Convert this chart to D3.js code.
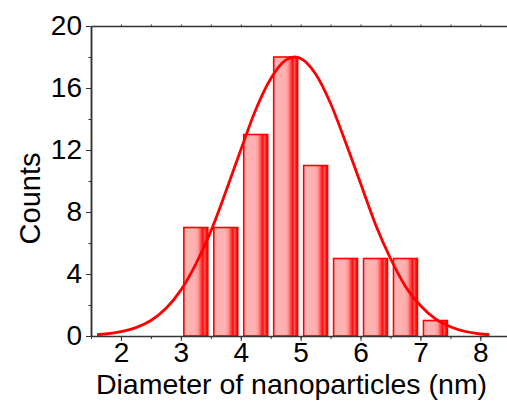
<!DOCTYPE html>
<html>
<head>
<meta charset="utf-8">
<script src="https://cdn.jsdelivr.net/npm/d3@7"></script>
<style>
  body { margin: 0; background: #fff; }
  svg { display: block; font-family: "Liberation Sans", Arial, sans-serif; }
</style>
</head>
<body>
<div id="chart"></div>
<script>
// histogram bins (left edge, nm) and counts
var binStarts = [3.0, 3.5, 4.0, 4.5, 5.0, 5.5, 6.0, 6.5, 7.0];
var counts = [7, 7, 13, 18, 11, 5, 5, 5, 1];
var binWidth = 0.5;

// fitted curve
var fitX = [1.6, 1.75, 2.0, 2.25, 2.5, 2.75, 3.0, 3.25, 3.5, 3.75, 4.0, 4.25, 4.5, 4.75, 4.9,
            5.0, 5.25, 5.5, 5.75, 6.0, 6.25, 6.5, 6.75, 7.0, 7.25, 7.5, 7.75, 8.0, 8.15];
var fitY = [0.08, 0.13, 0.28, 0.54, 1.0, 1.77, 2.96, 4.64, 6.75, 9.3, 12.0, 14.6, 16.6, 17.8, 18.0,
            17.9, 16.9, 15.0, 12.5, 9.85, 7.2, 5.0, 3.2, 1.97, 1.1, 0.6, 0.29, 0.13, 0.08];

var xTicks = [2, 3, 4, 5, 6, 7, 8];
var yTicks = [0, 4, 8, 12, 16, 20];

var W = 507, H = 406;
var red = "#ff0000";
var axisColor = "#333";

var svg = d3.select("#chart").append("svg")
    .attr("width", W)
    .attr("height", H);

var x = d3.scaleLinear().domain([1.5, 8.5]).range([91, 510.3]);
var y = d3.scaleLinear().domain([0, 20]).range([336, 26]);

// bar gradient, pink going to red at right edge
var grad = svg.append("defs").append("linearGradient")
    .attr("id", "barfill")
    .attr("x1", "0").attr("y1", "0").attr("x2", "1").attr("y2", "0");
[[0, "#ffb3b3"], [0.48, "#ffb0b0"], [0.6, "#ff9898"], [0.72, "#ff4040"],
 [0.8, "#ff0a0a"], [0.87, "#ff5858"], [0.93, "#ff1818"], [1, "#ff0000"]]
    .forEach(function (s) {
        grad.append("stop").attr("offset", s[0]).attr("stop-color", s[1]);
    });

// bars
var gap = 2.2, sw = 1.6;
svg.append("g")
    .selectAll("rect")
    .data(binStarts)
    .enter()
    .append("rect")
    .attr("x", function (d) { return x(d) + gap + sw / 2; })
    .attr("width", function (d) { return x(d + binWidth) - x(d) - 2 * gap - sw; })
    .attr("y", function (d, i) { return y(counts[i]); })
    .attr("height", function (d, i) { return y(0) - y(counts[i]); })
    .style("fill", "url(#barfill)")
    .style("stroke", red)
    .style("stroke-width", sw + "px");

// axes
function styleAxis(g) {
    g.select(".domain").attr("stroke", axisColor).attr("stroke-width", 1.5);
    g.selectAll(".tick line").attr("stroke", axisColor).attr("stroke-width", 1);
}

// minor ticks first
svg.append("g")
    .attr("transform", "translate(0," + y(0) + ")")
    .call(d3.axisBottom(x).tickValues(d3.range(1.5, 8.6, 0.5)).tickSize(3).tickFormat("").tickSizeOuter(0))
    .call(styleAxis);

var xAxis = svg.append("g")
    .attr("transform", "translate(0," + y(0) + ")")
    .call(d3.axisBottom(x).tickValues(xTicks).tickSize(5).tickFormat(d3.format("d")).tickSizeOuter(0))
    .call(styleAxis);
xAxis.select(".domain").remove();
xAxis.selectAll("text")
    .attr("fill", "#000")
    .style("font-size", "28px")
    .attr("dy", null)
    .attr("y", 26);

svg.append("g")
    .attr("transform", "translate(" + x(1.5) + ",0)")
    .call(d3.axisLeft(y).tickValues(d3.range(2, 20, 4)).tickSize(2.5).tickFormat("").tickSizeOuter(0))
    .call(styleAxis);

var yAxis = svg.append("g")
    .attr("transform", "translate(" + x(1.5) + ",0)")
    .call(d3.axisLeft(y).tickValues(yTicks).tickSize(5).tickPadding(4).tickFormat(d3.format("d")).tickSizeOuter(0))
    .call(styleAxis);
yAxis.selectAll("text")
    .attr("fill", "#000")
    .style("font-size", "28px")
    .attr("dy", "0.32em");

// top frame with tiny ticks
svg.append("g")
    .attr("transform", "translate(0," + y(20) + ")")
    .call(d3.axisTop(x).tickValues(d3.range(2, 8.6, 0.5)).tickSize(1.5).tickFormat("").tickSizeOuter(0))
    .call(styleAxis);

// fitted curve
var line = d3.line()
    .x(function (d) { return x(d[0]); })
    .y(function (d) { return y(d[1]); })
    .curve(d3.curveMonotoneX);

svg.append("path")
    .datum(fitX.map(function (v, i) { return [v, fitY[i]]; }))
    .attr("d", line)
    .style("fill", "none")
    .style("stroke", red)
    .style("stroke-width", "2.8px");

// axis titles
svg.append("text")
    .attr("x", 291.5)
    .attr("y", 394)
    .attr("text-anchor", "middle")
    .style("font-size", "28.5px")
    .text("Diameter of nanoparticles (nm)");

svg.append("text")
    .attr("transform", "translate(40,198.5) rotate(-90)")
    .attr("text-anchor", "middle")
    .style("font-size", "29px")
    .text("Counts");
</script>
</body>
</html>
